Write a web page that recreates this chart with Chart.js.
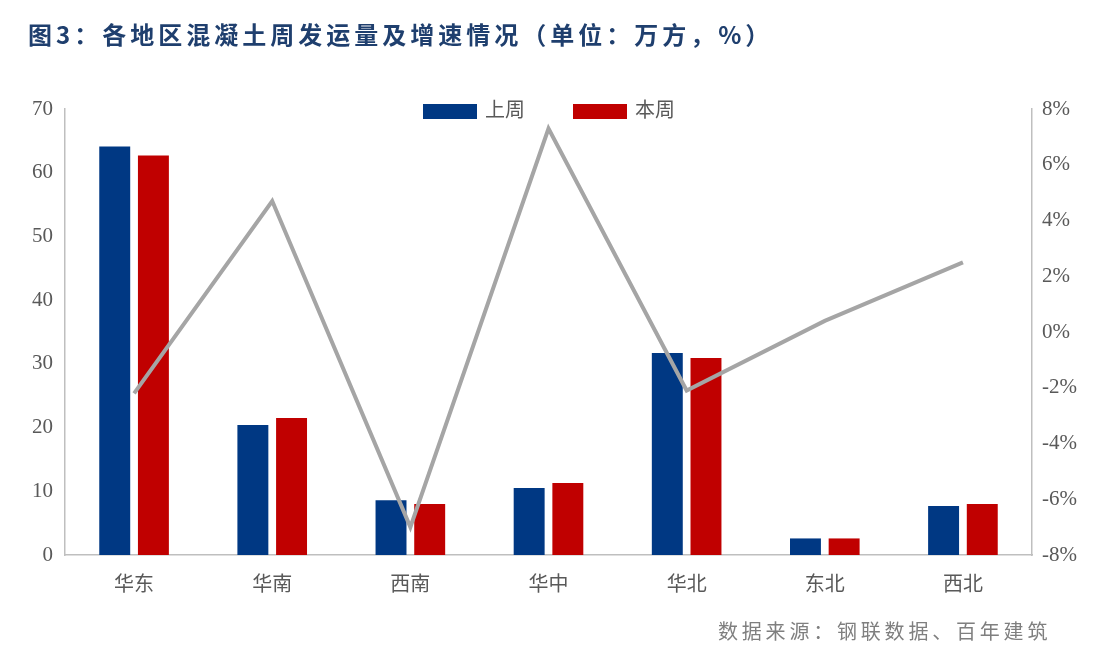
<!DOCTYPE html>
<html><head><meta charset="utf-8">
<script src="https://cdn.jsdelivr.net/npm/chart.js@4"></script>
<style>
body{margin:0;width:1104px;height:659px;background:#fff;position:relative;overflow:hidden;font-family:"Noto Sans CJK SC";}
#t{position:absolute;left:28px;top:16px;font-size:24px;letter-spacing:4px;font-weight:bold;color:#1f3f6e;white-space:nowrap;}
#s{position:absolute;left:718px;top:616px;font-size:20px;letter-spacing:3.8px;color:#7f7f7f;white-space:nowrap;}
#lg{position:absolute;left:423px;top:94px;font-size:20px;color:#595959;}
#lg span.b{display:inline-block;width:54px;height:15px;vertical-align:middle;margin-right:8px;}
canvas{position:absolute;left:0;top:0;}
</style></head><body>
<canvas id="c" width="1104" height="659"></canvas>
<div id="t">图3：各地区混凝土周发运量及增速情况（单位：万方，%）</div>
<div id="lg"><span class="b" style="background:#003883"></span>上周<span style="display:inline-block;width:48px"></span><span class="b" style="background:#c00000"></span>本周</div>
<div id="s">数据来源：钢联数据、百年建筑</div>
<script>
const categories=["华东","华南","西南","华中","华北","东北","西北"];
const lastWeek=[64.1,20.4,8.6,10.5,31.7,2.6,7.7];
const thisWeek=[62.7,21.5,8.0,11.3,30.9,2.6,8.0];
const growth=[-2.2,4.7,-7.0,7.3,-2.1,0.4,2.5];
const tickFont={family:"Liberation Serif",size:21};
new Chart(document.getElementById('c'),{
 data:{labels:categories,datasets:[
  {type:'line',label:'增速',data:growth,yAxisID:'y2',borderColor:'#a5a5a5',borderWidth:4,pointRadius:0,tension:0,order:0},
  {type:'bar',label:'上周',data:lastWeek,backgroundColor:'#003883',categoryPercentage:0.56,barPercentage:0.8,order:1},
  {type:'bar',label:'本周',data:thisWeek,backgroundColor:'#c00000',categoryPercentage:0.56,barPercentage:0.8,order:1}
 ]},
 options:{responsive:false,animation:false,layout:{padding:{top:109,left:0,right:0,bottom:0}},
  plugins:{legend:{display:false},tooltip:{enabled:false}},
  scales:{
   x:{grid:{display:false,drawTicks:false},border:{color:'#bfbfbf',width:1.5},ticks:{color:'#595959',font:{family:"Noto Sans CJK SC",size:20},padding:16},afterFit(s){s.height=104;}},
   y:{position:'left',min:0,max:70,ticks:{stepSize:10,color:'#595959',font:tickFont,padding:6},grid:{display:false,drawTicks:true,tickLength:6,tickColor:'#bfbfbf'},border:{color:'#bfbfbf',width:1.5},afterFit(s){s.width=65;}},
   y2:{position:'right',min:-8,max:8,ticks:{stepSize:2,color:'#595959',font:tickFont,padding:4,callback:v=>v+'%'},grid:{display:false,drawTicks:true,tickLength:6,tickColor:'#bfbfbf'},border:{color:'#bfbfbf',width:1.5},afterFit(s){s.width=72;}}
  }}
});
</script></body></html>
